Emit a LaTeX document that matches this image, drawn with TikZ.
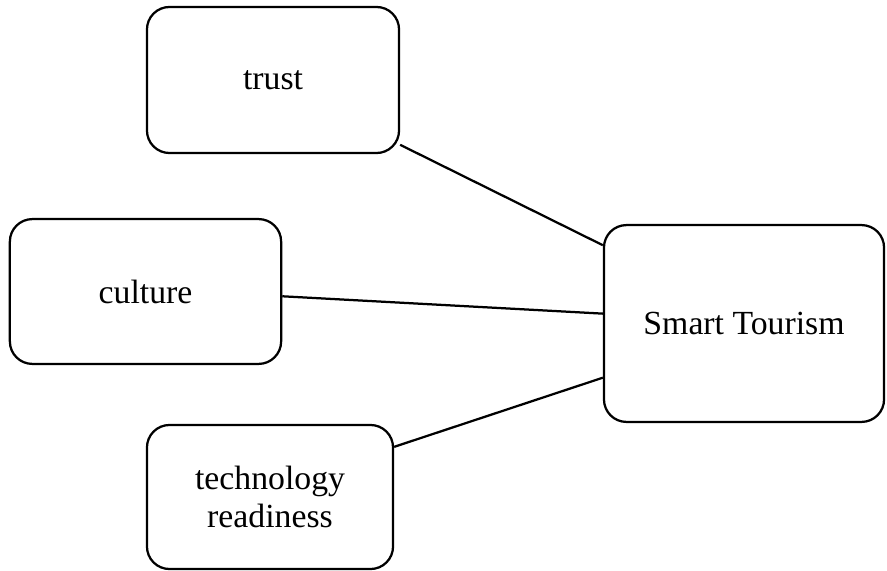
\documentclass[tikz,border=0pt]{standalone}
\usepackage{fontspec}
\setmainfont{Liberation Serif}
\usetikzlibrary{positioning}

\begin{document}
\begin{tikzpicture}[
  x=0.0125cm, y=-0.0125cm,
  every node/.style={font=\fontsize{12}{13.8}\selectfont},
  factor/.style={draw, line width=0.8pt, rounded corners=8pt, align=center, inner sep=4pt},
  link/.style={line width=0.8pt}
]
  \useasboundingbox (0,0) rectangle (887,570);

  % Einflussfaktoren
  \node[factor, minimum width=3.15cm, minimum height=1.825cm] (trust) at (273,80) {trust};
  \node[factor, minimum width=3.39cm, minimum height=1.81cm] (culture) at (145.5,291.5) {culture};
  \node[factor, minimum width=3.075cm, minimum height=1.8cm] (tech) at (270,497) {technology\\ readiness};

  % Ziel
  \node[factor, minimum width=3.5cm, minimum height=2.46cm] (smart) at (744,323.5) {Smart Tourism};

  \draw[link] (trust.-27.5) -- (smart.151.7);
  \draw[link] (culture.-2.7) -- (smart.176.5);
  \draw[link] (tech.22.1) -- (smart.-159.1);

\end{tikzpicture}
\end{document}
